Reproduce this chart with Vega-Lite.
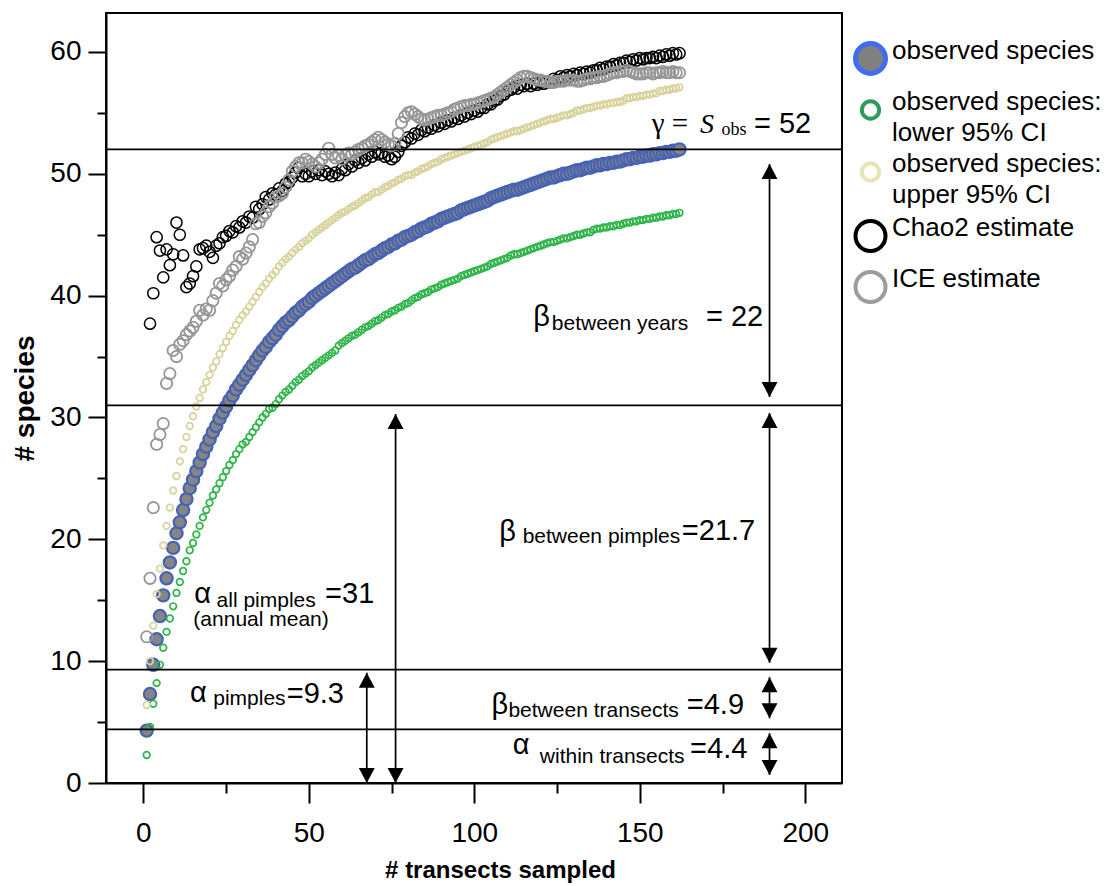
{
  "$schema": "https://vega.github.io/schema/vega-lite/v6.json",
  "width": 736,
  "height": 770,
  "autosize": {"type": "none"},
  "padding": {"left": 106, "top": 13, "right": 270, "bottom": 103},
  "background": "white",
  "config": {
    "font": "Liberation Sans",
    "view": {"stroke": "black", "strokeWidth": 2},
    "style": {"guide-label": {"lineHeight": 31}},
    "axis": {
      "grid": false,
      "domainColor": "black",
      "domainWidth": 2,
      "tickColor": "black",
      "tickWidth": 2,
      "labelFont": "Liberation Sans",
      "labelFontSize": 28,
      "labelColor": "black",
      "labelFlush": false,
      "titleFont": "Liberation Sans",
      "titleFontWeight": "bold",
      "titleColor": "black"
    }
  },
  "datasets": {
    "curves": [
      {"n":1,"s":4.3,"k":"obs"},{"n":2,"s":7.3,"k":"obs"},{"n":3,"s":9.7,"k":"obs"},{"n":4,"s":11.8,"k":"obs"},{"n":5,"s":13.7,"k":"obs"},{"n":6,"s":15.4,"k":"obs"},{"n":7,"s":16.8,"k":"obs"},{"n":8,"s":18.1,"k":"obs"},{"n":9,"s":19.3,"k":"obs"},{"n":10,"s":20.5,"k":"obs"},
      {"n":11,"s":21.4,"k":"obs"},{"n":12,"s":22.4,"k":"obs"},{"n":13,"s":23.3,"k":"obs"},{"n":14,"s":24.2,"k":"obs"},{"n":15,"s":24.9,"k":"obs"},{"n":16,"s":25.6,"k":"obs"},{"n":17,"s":26.3,"k":"obs"},{"n":18,"s":27.0,"k":"obs"},{"n":19,"s":27.6,"k":"obs"},{"n":20,"s":28.2,"k":"obs"},
      {"n":21,"s":28.8,"k":"obs"},{"n":22,"s":29.3,"k":"obs"},{"n":23,"s":29.9,"k":"obs"},{"n":24,"s":30.4,"k":"obs"},{"n":25,"s":30.9,"k":"obs"},{"n":26,"s":31.4,"k":"obs"},{"n":27,"s":31.8,"k":"obs"},{"n":28,"s":32.3,"k":"obs"},{"n":29,"s":32.7,"k":"obs"},{"n":30,"s":33.1,"k":"obs"},
      {"n":31,"s":33.5,"k":"obs"},{"n":32,"s":33.9,"k":"obs"},{"n":33,"s":34.3,"k":"obs"},{"n":34,"s":34.7,"k":"obs"},{"n":35,"s":35.1,"k":"obs"},{"n":36,"s":35.5,"k":"obs"},{"n":37,"s":35.8,"k":"obs"},{"n":38,"s":36.2,"k":"obs"},{"n":39,"s":36.5,"k":"obs"},{"n":40,"s":36.8,"k":"obs"},
      {"n":41,"s":37.2,"k":"obs"},{"n":42,"s":37.5,"k":"obs"},{"n":43,"s":37.8,"k":"obs"},{"n":44,"s":38.0,"k":"obs"},{"n":45,"s":38.3,"k":"obs"},{"n":46,"s":38.6,"k":"obs"},{"n":47,"s":38.8,"k":"obs"},{"n":48,"s":39.1,"k":"obs"},{"n":49,"s":39.3,"k":"obs"},{"n":50,"s":39.5,"k":"obs"},
      {"n":51,"s":39.8,"k":"obs"},{"n":52,"s":40.0,"k":"obs"},{"n":53,"s":40.2,"k":"obs"},{"n":54,"s":40.4,"k":"obs"},{"n":55,"s":40.6,"k":"obs"},{"n":56,"s":40.8,"k":"obs"},{"n":57,"s":41.0,"k":"obs"},{"n":58,"s":41.2,"k":"obs"},{"n":59,"s":41.4,"k":"obs"},{"n":60,"s":41.6,"k":"obs"},
      {"n":61,"s":41.8,"k":"obs"},{"n":62,"s":42.0,"k":"obs"},{"n":63,"s":42.2,"k":"obs"},{"n":64,"s":42.3,"k":"obs"},{"n":65,"s":42.5,"k":"obs"},{"n":66,"s":42.7,"k":"obs"},{"n":67,"s":42.9,"k":"obs"},{"n":68,"s":43.0,"k":"obs"},{"n":69,"s":43.2,"k":"obs"},{"n":70,"s":43.4,"k":"obs"},
      {"n":71,"s":43.5,"k":"obs"},{"n":72,"s":43.7,"k":"obs"},{"n":73,"s":43.9,"k":"obs"},{"n":74,"s":44.0,"k":"obs"},{"n":75,"s":44.2,"k":"obs"},{"n":76,"s":44.3,"k":"obs"},{"n":77,"s":44.5,"k":"obs"},{"n":78,"s":44.6,"k":"obs"},{"n":79,"s":44.8,"k":"obs"},{"n":80,"s":44.9,"k":"obs"},
      {"n":81,"s":45.0,"k":"obs"},{"n":82,"s":45.2,"k":"obs"},{"n":83,"s":45.3,"k":"obs"},{"n":84,"s":45.5,"k":"obs"},{"n":85,"s":45.6,"k":"obs"},{"n":86,"s":45.7,"k":"obs"},{"n":87,"s":45.9,"k":"obs"},{"n":88,"s":46.0,"k":"obs"},{"n":89,"s":46.1,"k":"obs"},{"n":90,"s":46.3,"k":"obs"},
      {"n":91,"s":46.4,"k":"obs"},{"n":92,"s":46.5,"k":"obs"},{"n":93,"s":46.6,"k":"obs"},{"n":94,"s":46.7,"k":"obs"},{"n":95,"s":46.8,"k":"obs"},{"n":96,"s":47.0,"k":"obs"},{"n":97,"s":47.1,"k":"obs"},{"n":98,"s":47.2,"k":"obs"},{"n":99,"s":47.3,"k":"obs"},{"n":100,"s":47.4,"k":"obs"},
      {"n":101,"s":47.5,"k":"obs"},{"n":102,"s":47.6,"k":"obs"},{"n":103,"s":47.7,"k":"obs"},{"n":104,"s":47.8,"k":"obs"},{"n":105,"s":48.0,"k":"obs"},{"n":106,"s":48.1,"k":"obs"},{"n":107,"s":48.2,"k":"obs"},{"n":108,"s":48.3,"k":"obs"},{"n":109,"s":48.4,"k":"obs"},{"n":110,"s":48.5,"k":"obs"},
      {"n":111,"s":48.6,"k":"obs"},{"n":112,"s":48.7,"k":"obs"},{"n":113,"s":48.7,"k":"obs"},{"n":114,"s":48.8,"k":"obs"},{"n":115,"s":48.9,"k":"obs"},{"n":116,"s":49.0,"k":"obs"},{"n":117,"s":49.1,"k":"obs"},{"n":118,"s":49.2,"k":"obs"},{"n":119,"s":49.3,"k":"obs"},{"n":120,"s":49.4,"k":"obs"},
      {"n":121,"s":49.5,"k":"obs"},{"n":122,"s":49.6,"k":"obs"},{"n":123,"s":49.7,"k":"obs"},{"n":124,"s":49.7,"k":"obs"},{"n":125,"s":49.8,"k":"obs"},{"n":126,"s":49.9,"k":"obs"},{"n":127,"s":50.0,"k":"obs"},{"n":128,"s":50.0,"k":"obs"},{"n":129,"s":50.1,"k":"obs"},{"n":130,"s":50.2,"k":"obs"},
      {"n":131,"s":50.3,"k":"obs"},{"n":132,"s":50.3,"k":"obs"},{"n":133,"s":50.4,"k":"obs"},{"n":134,"s":50.5,"k":"obs"},{"n":135,"s":50.5,"k":"obs"},{"n":136,"s":50.6,"k":"obs"},{"n":137,"s":50.7,"k":"obs"},{"n":138,"s":50.7,"k":"obs"},{"n":139,"s":50.8,"k":"obs"},{"n":140,"s":50.8,"k":"obs"},
      {"n":141,"s":50.9,"k":"obs"},{"n":142,"s":50.9,"k":"obs"},{"n":143,"s":51.0,"k":"obs"},{"n":144,"s":51.0,"k":"obs"},{"n":145,"s":51.1,"k":"obs"},{"n":146,"s":51.2,"k":"obs"},{"n":147,"s":51.2,"k":"obs"},{"n":148,"s":51.3,"k":"obs"},{"n":149,"s":51.3,"k":"obs"},{"n":150,"s":51.4,"k":"obs"},
      {"n":151,"s":51.4,"k":"obs"},{"n":152,"s":51.5,"k":"obs"},{"n":153,"s":51.5,"k":"obs"},{"n":154,"s":51.6,"k":"obs"},{"n":155,"s":51.6,"k":"obs"},{"n":156,"s":51.7,"k":"obs"},{"n":157,"s":51.7,"k":"obs"},{"n":158,"s":51.8,"k":"obs"},{"n":159,"s":51.8,"k":"obs"},{"n":160,"s":51.9,"k":"obs"},
      {"n":161,"s":51.9,"k":"obs"},{"n":162,"s":52.0,"k":"obs"},

      {"n":1,"s":2.3,"k":"lo"},{"n":2,"s":4.6,"k":"lo"},{"n":3,"s":6.5,"k":"lo"},{"n":4,"s":8.2,"k":"lo"},{"n":5,"s":9.7,"k":"lo"},{"n":6,"s":11.1,"k":"lo"},{"n":7,"s":12.4,"k":"lo"},{"n":8,"s":13.5,"k":"lo"},{"n":9,"s":14.5,"k":"lo"},{"n":10,"s":15.6,"k":"lo"},
      {"n":11,"s":16.5,"k":"lo"},{"n":12,"s":17.4,"k":"lo"},{"n":13,"s":18.2,"k":"lo"},{"n":14,"s":19.1,"k":"lo"},{"n":15,"s":19.7,"k":"lo"},{"n":16,"s":20.4,"k":"lo"},{"n":17,"s":21.1,"k":"lo"},{"n":18,"s":21.8,"k":"lo"},{"n":19,"s":22.4,"k":"lo"},{"n":20,"s":23.0,"k":"lo"},
      {"n":21,"s":23.6,"k":"lo"},{"n":22,"s":24.1,"k":"lo"},{"n":23,"s":24.6,"k":"lo"},{"n":24,"s":25.1,"k":"lo"},{"n":25,"s":25.6,"k":"lo"},{"n":26,"s":26.1,"k":"lo"},{"n":27,"s":26.5,"k":"lo"},{"n":28,"s":27.0,"k":"lo"},{"n":29,"s":27.4,"k":"lo"},{"n":30,"s":27.8,"k":"lo"},
      {"n":31,"s":28.0,"k":"lo"},{"n":32,"s":28.4,"k":"lo"},{"n":33,"s":28.8,"k":"lo"},{"n":34,"s":29.2,"k":"lo"},{"n":35,"s":29.6,"k":"lo"},{"n":36,"s":30.0,"k":"lo"},{"n":37,"s":30.3,"k":"lo"},{"n":38,"s":30.7,"k":"lo"},{"n":39,"s":30.8,"k":"lo"},{"n":40,"s":31.1,"k":"lo"},
      {"n":41,"s":31.5,"k":"lo"},{"n":42,"s":31.8,"k":"lo"},{"n":43,"s":32.1,"k":"lo"},{"n":44,"s":32.3,"k":"lo"},{"n":45,"s":32.6,"k":"lo"},{"n":46,"s":32.9,"k":"lo"},{"n":47,"s":33.1,"k":"lo"},{"n":48,"s":33.4,"k":"lo"},{"n":49,"s":33.6,"k":"lo"},{"n":50,"s":33.8,"k":"lo"},
      {"n":51,"s":34.1,"k":"lo"},{"n":52,"s":34.3,"k":"lo"},{"n":53,"s":34.5,"k":"lo"},{"n":54,"s":34.7,"k":"lo"},{"n":55,"s":34.9,"k":"lo"},{"n":56,"s":35.1,"k":"lo"},{"n":57,"s":35.3,"k":"lo"},{"n":58,"s":35.5,"k":"lo"},{"n":59,"s":35.9,"k":"lo"},{"n":60,"s":36.1,"k":"lo"},
      {"n":61,"s":36.3,"k":"lo"},{"n":62,"s":36.5,"k":"lo"},{"n":63,"s":36.7,"k":"lo"},{"n":64,"s":36.8,"k":"lo"},{"n":65,"s":37.0,"k":"lo"},{"n":66,"s":37.2,"k":"lo"},{"n":67,"s":37.4,"k":"lo"},{"n":68,"s":37.5,"k":"lo"},{"n":69,"s":37.7,"k":"lo"},{"n":70,"s":37.9,"k":"lo"},
      {"n":71,"s":38.0,"k":"lo"},{"n":72,"s":38.2,"k":"lo"},{"n":73,"s":38.4,"k":"lo"},{"n":74,"s":38.5,"k":"lo"},{"n":75,"s":38.7,"k":"lo"},{"n":76,"s":38.8,"k":"lo"},{"n":77,"s":39.0,"k":"lo"},{"n":78,"s":39.1,"k":"lo"},{"n":79,"s":39.3,"k":"lo"},{"n":80,"s":39.4,"k":"lo"},
      {"n":81,"s":39.6,"k":"lo"},{"n":82,"s":39.8,"k":"lo"},{"n":83,"s":39.9,"k":"lo"},{"n":84,"s":40.1,"k":"lo"},{"n":85,"s":40.2,"k":"lo"},{"n":86,"s":40.3,"k":"lo"},{"n":87,"s":40.5,"k":"lo"},{"n":88,"s":40.6,"k":"lo"},{"n":89,"s":40.7,"k":"lo"},{"n":90,"s":40.9,"k":"lo"},
      {"n":91,"s":41.0,"k":"lo"},{"n":92,"s":41.1,"k":"lo"},{"n":93,"s":41.2,"k":"lo"},{"n":94,"s":41.3,"k":"lo"},{"n":95,"s":41.4,"k":"lo"},{"n":96,"s":41.6,"k":"lo"},{"n":97,"s":41.7,"k":"lo"},{"n":98,"s":41.8,"k":"lo"},{"n":99,"s":41.9,"k":"lo"},{"n":100,"s":42.0,"k":"lo"},
      {"n":101,"s":42.1,"k":"lo"},{"n":102,"s":42.2,"k":"lo"},{"n":103,"s":42.3,"k":"lo"},{"n":104,"s":42.4,"k":"lo"},{"n":105,"s":42.6,"k":"lo"},{"n":106,"s":42.7,"k":"lo"},{"n":107,"s":42.8,"k":"lo"},{"n":108,"s":42.9,"k":"lo"},{"n":109,"s":43.0,"k":"lo"},{"n":110,"s":43.1,"k":"lo"},
      {"n":111,"s":43.3,"k":"lo"},{"n":112,"s":43.4,"k":"lo"},{"n":113,"s":43.4,"k":"lo"},{"n":114,"s":43.5,"k":"lo"},{"n":115,"s":43.6,"k":"lo"},{"n":116,"s":43.7,"k":"lo"},{"n":117,"s":43.8,"k":"lo"},{"n":118,"s":43.9,"k":"lo"},{"n":119,"s":44.0,"k":"lo"},{"n":120,"s":44.1,"k":"lo"},
      {"n":121,"s":44.2,"k":"lo"},{"n":122,"s":44.3,"k":"lo"},{"n":123,"s":44.4,"k":"lo"},{"n":124,"s":44.4,"k":"lo"},{"n":125,"s":44.5,"k":"lo"},{"n":126,"s":44.6,"k":"lo"},{"n":127,"s":44.7,"k":"lo"},{"n":128,"s":44.7,"k":"lo"},{"n":129,"s":44.8,"k":"lo"},{"n":130,"s":44.9,"k":"lo"},
      {"n":131,"s":45.0,"k":"lo"},{"n":132,"s":45.0,"k":"lo"},{"n":133,"s":45.1,"k":"lo"},{"n":134,"s":45.2,"k":"lo"},{"n":135,"s":45.2,"k":"lo"},{"n":136,"s":45.4,"k":"lo"},{"n":137,"s":45.5,"k":"lo"},{"n":138,"s":45.5,"k":"lo"},{"n":139,"s":45.6,"k":"lo"},{"n":140,"s":45.6,"k":"lo"},
      {"n":141,"s":45.7,"k":"lo"},{"n":142,"s":45.7,"k":"lo"},{"n":143,"s":45.8,"k":"lo"},{"n":144,"s":45.8,"k":"lo"},{"n":145,"s":45.9,"k":"lo"},{"n":146,"s":46.0,"k":"lo"},{"n":147,"s":46.0,"k":"lo"},{"n":148,"s":46.1,"k":"lo"},{"n":149,"s":46.1,"k":"lo"},{"n":150,"s":46.2,"k":"lo"},
      {"n":151,"s":46.2,"k":"lo"},{"n":152,"s":46.3,"k":"lo"},{"n":153,"s":46.3,"k":"lo"},{"n":154,"s":46.4,"k":"lo"},{"n":155,"s":46.4,"k":"lo"},{"n":156,"s":46.5,"k":"lo"},{"n":157,"s":46.5,"k":"lo"},{"n":158,"s":46.6,"k":"lo"},{"n":159,"s":46.6,"k":"lo"},{"n":160,"s":46.7,"k":"lo"},
      {"n":161,"s":46.7,"k":"lo"},{"n":162,"s":46.8,"k":"lo"},

      {"n":1,"s":6.4,"k":"hi"},{"n":2,"s":10.0,"k":"hi"},{"n":3,"s":12.9,"k":"hi"},{"n":4,"s":15.5,"k":"hi"},{"n":5,"s":17.6,"k":"hi"},{"n":6,"s":19.5,"k":"hi"},{"n":7,"s":21.1,"k":"hi"},{"n":8,"s":22.6,"k":"hi"},{"n":9,"s":24.0,"k":"hi"},{"n":10,"s":25.2,"k":"hi"},
      {"n":11,"s":26.4,"k":"hi"},{"n":12,"s":27.4,"k":"hi"},{"n":13,"s":28.4,"k":"hi"},{"n":14,"s":29.3,"k":"hi"},{"n":15,"s":30.1,"k":"hi"},{"n":16,"s":30.9,"k":"hi"},{"n":17,"s":31.6,"k":"hi"},{"n":18,"s":32.3,"k":"hi"},{"n":19,"s":32.9,"k":"hi"},{"n":20,"s":33.5,"k":"hi"},
      {"n":21,"s":34.1,"k":"hi"},{"n":22,"s":34.6,"k":"hi"},{"n":23,"s":35.2,"k":"hi"},{"n":24,"s":35.7,"k":"hi"},{"n":25,"s":36.2,"k":"hi"},{"n":26,"s":36.7,"k":"hi"},{"n":27,"s":37.1,"k":"hi"},{"n":28,"s":37.6,"k":"hi"},{"n":29,"s":38.0,"k":"hi"},{"n":30,"s":38.4,"k":"hi"},
      {"n":31,"s":38.7,"k":"hi"},{"n":32,"s":39.1,"k":"hi"},{"n":33,"s":39.5,"k":"hi"},{"n":34,"s":39.9,"k":"hi"},{"n":35,"s":40.3,"k":"hi"},{"n":36,"s":40.7,"k":"hi"},{"n":37,"s":41.0,"k":"hi"},{"n":38,"s":41.4,"k":"hi"},{"n":39,"s":41.7,"k":"hi"},{"n":40,"s":42.0,"k":"hi"},
      {"n":41,"s":42.4,"k":"hi"},{"n":42,"s":42.7,"k":"hi"},{"n":43,"s":43.0,"k":"hi"},{"n":44,"s":43.2,"k":"hi"},{"n":45,"s":43.5,"k":"hi"},{"n":46,"s":43.8,"k":"hi"},{"n":47,"s":44.0,"k":"hi"},{"n":48,"s":44.3,"k":"hi"},{"n":49,"s":44.5,"k":"hi"},{"n":50,"s":44.7,"k":"hi"},
      {"n":51,"s":45.0,"k":"hi"},{"n":52,"s":45.2,"k":"hi"},{"n":53,"s":45.4,"k":"hi"},{"n":54,"s":45.6,"k":"hi"},{"n":55,"s":45.8,"k":"hi"},{"n":56,"s":46.0,"k":"hi"},{"n":57,"s":46.2,"k":"hi"},{"n":58,"s":46.4,"k":"hi"},{"n":59,"s":46.6,"k":"hi"},{"n":60,"s":46.8,"k":"hi"},
      {"n":61,"s":46.9,"k":"hi"},{"n":62,"s":47.1,"k":"hi"},{"n":63,"s":47.3,"k":"hi"},{"n":64,"s":47.4,"k":"hi"},{"n":65,"s":47.6,"k":"hi"},{"n":66,"s":47.8,"k":"hi"},{"n":67,"s":48.0,"k":"hi"},{"n":68,"s":48.1,"k":"hi"},{"n":69,"s":48.3,"k":"hi"},{"n":70,"s":48.5,"k":"hi"},
      {"n":71,"s":48.5,"k":"hi"},{"n":72,"s":48.7,"k":"hi"},{"n":73,"s":48.9,"k":"hi"},{"n":74,"s":49.0,"k":"hi"},{"n":75,"s":49.2,"k":"hi"},{"n":76,"s":49.3,"k":"hi"},{"n":77,"s":49.5,"k":"hi"},{"n":78,"s":49.6,"k":"hi"},{"n":79,"s":49.8,"k":"hi"},{"n":80,"s":49.9,"k":"hi"},
      {"n":81,"s":49.9,"k":"hi"},{"n":82,"s":50.1,"k":"hi"},{"n":83,"s":50.2,"k":"hi"},{"n":84,"s":50.4,"k":"hi"},{"n":85,"s":50.5,"k":"hi"},{"n":86,"s":50.6,"k":"hi"},{"n":87,"s":50.8,"k":"hi"},{"n":88,"s":50.9,"k":"hi"},{"n":89,"s":51.0,"k":"hi"},{"n":90,"s":51.2,"k":"hi"},
      {"n":91,"s":51.3,"k":"hi"},{"n":92,"s":51.4,"k":"hi"},{"n":93,"s":51.5,"k":"hi"},{"n":94,"s":51.6,"k":"hi"},{"n":95,"s":51.7,"k":"hi"},{"n":96,"s":51.8,"k":"hi"},{"n":97,"s":51.9,"k":"hi"},{"n":98,"s":52.0,"k":"hi"},{"n":99,"s":52.1,"k":"hi"},{"n":100,"s":52.2,"k":"hi"},
      {"n":101,"s":52.3,"k":"hi"},{"n":102,"s":52.4,"k":"hi"},{"n":103,"s":52.5,"k":"hi"},{"n":104,"s":52.6,"k":"hi"},{"n":105,"s":52.8,"k":"hi"},{"n":106,"s":52.9,"k":"hi"},{"n":107,"s":53.0,"k":"hi"},{"n":108,"s":53.1,"k":"hi"},{"n":109,"s":53.2,"k":"hi"},{"n":110,"s":53.3,"k":"hi"},
      {"n":111,"s":53.4,"k":"hi"},{"n":112,"s":53.5,"k":"hi"},{"n":113,"s":53.5,"k":"hi"},{"n":114,"s":53.6,"k":"hi"},{"n":115,"s":53.7,"k":"hi"},{"n":116,"s":53.8,"k":"hi"},{"n":117,"s":53.9,"k":"hi"},{"n":118,"s":54.0,"k":"hi"},{"n":119,"s":54.1,"k":"hi"},{"n":120,"s":54.2,"k":"hi"},
      {"n":121,"s":54.3,"k":"hi"},{"n":122,"s":54.4,"k":"hi"},{"n":123,"s":54.5,"k":"hi"},{"n":124,"s":54.5,"k":"hi"},{"n":125,"s":54.6,"k":"hi"},{"n":126,"s":54.7,"k":"hi"},{"n":127,"s":54.8,"k":"hi"},{"n":128,"s":54.8,"k":"hi"},{"n":129,"s":54.9,"k":"hi"},{"n":130,"s":55.0,"k":"hi"},
      {"n":131,"s":55.2,"k":"hi"},{"n":132,"s":55.2,"k":"hi"},{"n":133,"s":55.3,"k":"hi"},{"n":134,"s":55.4,"k":"hi"},{"n":135,"s":55.4,"k":"hi"},{"n":136,"s":55.5,"k":"hi"},{"n":137,"s":55.6,"k":"hi"},{"n":138,"s":55.6,"k":"hi"},{"n":139,"s":55.7,"k":"hi"},{"n":140,"s":55.7,"k":"hi"},
      {"n":141,"s":55.8,"k":"hi"},{"n":142,"s":55.8,"k":"hi"},{"n":143,"s":55.9,"k":"hi"},{"n":144,"s":55.9,"k":"hi"},{"n":145,"s":56.0,"k":"hi"},{"n":146,"s":56.2,"k":"hi"},{"n":147,"s":56.2,"k":"hi"},{"n":148,"s":56.3,"k":"hi"},{"n":149,"s":56.3,"k":"hi"},{"n":150,"s":56.4,"k":"hi"},
      {"n":151,"s":56.4,"k":"hi"},{"n":152,"s":56.5,"k":"hi"},{"n":153,"s":56.5,"k":"hi"},{"n":154,"s":56.6,"k":"hi"},{"n":155,"s":56.6,"k":"hi"},{"n":156,"s":56.8,"k":"hi"},{"n":157,"s":56.8,"k":"hi"},{"n":158,"s":56.9,"k":"hi"},{"n":159,"s":56.9,"k":"hi"},{"n":160,"s":57.0,"k":"hi"},
      {"n":161,"s":57.0,"k":"hi"},{"n":162,"s":57.1,"k":"hi"},

      {"n":2,"s":37.7,"k":"chao"},{"n":3,"s":40.2,"k":"chao"},{"n":4,"s":44.8,"k":"chao"},{"n":5,"s":43.7,"k":"chao"},{"n":6,"s":41.5,"k":"chao"},{"n":7,"s":43.8,"k":"chao"},{"n":8,"s":42.5,"k":"chao"},{"n":9,"s":43.4,"k":"chao"},{"n":10,"s":46.0,"k":"chao"},
      {"n":11,"s":45.0,"k":"chao"},{"n":12,"s":43.3,"k":"chao"},{"n":13,"s":40.7,"k":"chao"},{"n":14,"s":41.0,"k":"chao"},{"n":15,"s":41.6,"k":"chao"},{"n":16,"s":42.4,"k":"chao"},{"n":17,"s":43.8,"k":"chao"},{"n":18,"s":43.9,"k":"chao"},{"n":19,"s":44.1,"k":"chao"},{"n":20,"s":43.6,"k":"chao"},
      {"n":21,"s":43.1,"k":"chao"},{"n":22,"s":44.1,"k":"chao"},{"n":23,"s":44.3,"k":"chao"},{"n":24,"s":44.8,"k":"chao"},{"n":25,"s":44.9,"k":"chao"},{"n":26,"s":45.3,"k":"chao"},{"n":27,"s":45.2,"k":"chao"},{"n":28,"s":45.7,"k":"chao"},{"n":29,"s":45.6,"k":"chao"},{"n":30,"s":46.1,"k":"chao"},
      {"n":31,"s":46.0,"k":"chao"},{"n":32,"s":46.5,"k":"chao"},{"n":33,"s":46.4,"k":"chao"},{"n":34,"s":47.3,"k":"chao"},{"n":35,"s":47.1,"k":"chao"},{"n":36,"s":47.5,"k":"chao"},{"n":37,"s":48.1,"k":"chao"},{"n":38,"s":47.9,"k":"chao"},{"n":39,"s":48.4,"k":"chao"},{"n":40,"s":48.3,"k":"chao"},
      {"n":41,"s":48.8,"k":"chao"},{"n":42,"s":48.6,"k":"chao"},{"n":43,"s":49.2,"k":"chao"},{"n":44,"s":49.3,"k":"chao"},{"n":45,"s":49.7,"k":"chao"},{"n":46,"s":50.1,"k":"chao"},{"n":47,"s":50.5,"k":"chao"},{"n":48,"s":49.8,"k":"chao"},{"n":49,"s":50.0,"k":"chao"},{"n":50,"s":49.8,"k":"chao"},
      {"n":51,"s":50.2,"k":"chao"},{"n":52,"s":50.0,"k":"chao"},{"n":53,"s":50.3,"k":"chao"},{"n":54,"s":49.9,"k":"chao"},{"n":55,"s":50.2,"k":"chao"},{"n":56,"s":50.0,"k":"chao"},{"n":57,"s":49.8,"k":"chao"},{"n":58,"s":50.1,"k":"chao"},{"n":59,"s":49.9,"k":"chao"},{"n":60,"s":50.4,"k":"chao"},
      {"n":61,"s":50.3,"k":"chao"},{"n":62,"s":50.8,"k":"chao"},{"n":63,"s":50.6,"k":"chao"},{"n":64,"s":51.1,"k":"chao"},{"n":65,"s":50.9,"k":"chao"},{"n":66,"s":51.3,"k":"chao"},{"n":67,"s":51.1,"k":"chao"},{"n":68,"s":51.6,"k":"chao"},{"n":69,"s":51.4,"k":"chao"},{"n":70,"s":51.8,"k":"chao"},
      {"n":71,"s":51.6,"k":"chao"},{"n":72,"s":51.7,"k":"chao"},{"n":73,"s":51.4,"k":"chao"},{"n":74,"s":51.5,"k":"chao"},{"n":75,"s":51.2,"k":"chao"},{"n":76,"s":51.4,"k":"chao"},{"n":77,"s":51.8,"k":"chao"},{"n":78,"s":52.3,"k":"chao"},{"n":79,"s":52.6,"k":"chao"},{"n":80,"s":53.0,"k":"chao"},
      {"n":81,"s":52.9,"k":"chao"},{"n":82,"s":53.3,"k":"chao"},{"n":83,"s":53.2,"k":"chao"},{"n":84,"s":53.6,"k":"chao"},{"n":85,"s":53.5,"k":"chao"},{"n":86,"s":53.8,"k":"chao"},{"n":87,"s":53.7,"k":"chao"},{"n":88,"s":54.0,"k":"chao"},{"n":89,"s":53.9,"k":"chao"},{"n":90,"s":54.2,"k":"chao"},
      {"n":91,"s":54.1,"k":"chao"},{"n":92,"s":54.4,"k":"chao"},{"n":93,"s":54.3,"k":"chao"},{"n":94,"s":54.6,"k":"chao"},{"n":95,"s":54.5,"k":"chao"},{"n":96,"s":54.8,"k":"chao"},{"n":97,"s":54.7,"k":"chao"},{"n":98,"s":55.0,"k":"chao"},{"n":99,"s":54.9,"k":"chao"},{"n":100,"s":55.2,"k":"chao"},
      {"n":101,"s":55.1,"k":"chao"},{"n":102,"s":55.4,"k":"chao"},{"n":103,"s":55.4,"k":"chao"},{"n":104,"s":55.7,"k":"chao"},{"n":105,"s":55.7,"k":"chao"},{"n":106,"s":56.0,"k":"chao"},{"n":107,"s":56.1,"k":"chao"},{"n":108,"s":56.4,"k":"chao"},{"n":109,"s":56.5,"k":"chao"},{"n":110,"s":56.8,"k":"chao"},
      {"n":111,"s":56.9,"k":"chao"},{"n":112,"s":57.1,"k":"chao"},{"n":113,"s":57.0,"k":"chao"},{"n":114,"s":57.3,"k":"chao"},{"n":115,"s":57.2,"k":"chao"},{"n":116,"s":57.4,"k":"chao"},{"n":117,"s":57.2,"k":"chao"},{"n":118,"s":57.4,"k":"chao"},{"n":119,"s":57.3,"k":"chao"},{"n":120,"s":57.5,"k":"chao"},
      {"n":121,"s":57.4,"k":"chao"},{"n":122,"s":57.6,"k":"chao"},{"n":123,"s":57.5,"k":"chao"},{"n":124,"s":57.8,"k":"chao"},{"n":125,"s":57.7,"k":"chao"},{"n":126,"s":58.0,"k":"chao"},{"n":127,"s":57.9,"k":"chao"},{"n":128,"s":58.1,"k":"chao"},{"n":129,"s":58.0,"k":"chao"},{"n":130,"s":58.2,"k":"chao"},
      {"n":131,"s":58.1,"k":"chao"},{"n":132,"s":58.3,"k":"chao"},{"n":133,"s":58.2,"k":"chao"},{"n":134,"s":58.4,"k":"chao"},{"n":135,"s":58.3,"k":"chao"},{"n":136,"s":58.5,"k":"chao"},{"n":137,"s":58.5,"k":"chao"},{"n":138,"s":58.7,"k":"chao"},{"n":139,"s":58.6,"k":"chao"},{"n":140,"s":58.8,"k":"chao"},
      {"n":141,"s":58.8,"k":"chao"},{"n":142,"s":59.0,"k":"chao"},{"n":143,"s":58.9,"k":"chao"},{"n":144,"s":59.1,"k":"chao"},{"n":145,"s":59.1,"k":"chao"},{"n":146,"s":59.3,"k":"chao"},{"n":147,"s":59.2,"k":"chao"},{"n":148,"s":59.4,"k":"chao"},{"n":149,"s":59.3,"k":"chao"},{"n":150,"s":59.5,"k":"chao"},
      {"n":151,"s":59.4,"k":"chao"},{"n":152,"s":59.5,"k":"chao"},{"n":153,"s":59.5,"k":"chao"},{"n":154,"s":59.6,"k":"chao"},{"n":155,"s":59.5,"k":"chao"},{"n":156,"s":59.7,"k":"chao"},{"n":157,"s":59.6,"k":"chao"},{"n":158,"s":59.8,"k":"chao"},{"n":159,"s":59.7,"k":"chao"},{"n":160,"s":59.9,"k":"chao"},
      {"n":161,"s":59.8,"k":"chao"},{"n":162,"s":59.9,"k":"chao"},

      {"n":1,"s":12.0,"k":"ice"},{"n":2,"s":16.8,"k":"ice"},{"n":3,"s":22.6,"k":"ice"},{"n":4,"s":27.8,"k":"ice"},{"n":5,"s":28.6,"k":"ice"},{"n":6,"s":29.5,"k":"ice"},{"n":7,"s":32.8,"k":"ice"},{"n":8,"s":33.6,"k":"ice"},{"n":9,"s":35.5,"k":"ice"},{"n":10,"s":35.0,"k":"ice"},
      {"n":11,"s":36.0,"k":"ice"},{"n":12,"s":36.3,"k":"ice"},{"n":13,"s":36.8,"k":"ice"},{"n":14,"s":37.1,"k":"ice"},{"n":15,"s":37.4,"k":"ice"},{"n":16,"s":37.9,"k":"ice"},{"n":17,"s":38.8,"k":"ice"},{"n":18,"s":38.4,"k":"ice"},{"n":19,"s":38.9,"k":"ice"},{"n":20,"s":38.8,"k":"ice"},
      {"n":21,"s":39.6,"k":"ice"},{"n":22,"s":40.2,"k":"ice"},{"n":23,"s":41.0,"k":"ice"},{"n":24,"s":40.8,"k":"ice"},{"n":25,"s":41.3,"k":"ice"},{"n":26,"s":41.6,"k":"ice"},{"n":27,"s":42.1,"k":"ice"},{"n":28,"s":42.4,"k":"ice"},{"n":29,"s":43.2,"k":"ice"},{"n":30,"s":43.0,"k":"ice"},
      {"n":31,"s":43.5,"k":"ice"},{"n":32,"s":44.0,"k":"ice"},{"n":33,"s":44.6,"k":"ice"},{"n":34,"s":45.9,"k":"ice"},{"n":35,"s":46.0,"k":"ice"},{"n":36,"s":46.5,"k":"ice"},{"n":37,"s":46.8,"k":"ice"},{"n":38,"s":47.3,"k":"ice"},{"n":39,"s":47.6,"k":"ice"},{"n":40,"s":48.1,"k":"ice"},
      {"n":41,"s":48.2,"k":"ice"},{"n":42,"s":48.4,"k":"ice"},{"n":43,"s":48.9,"k":"ice"},{"n":44,"s":49.5,"k":"ice"},{"n":45,"s":50.2,"k":"ice"},{"n":46,"s":50.6,"k":"ice"},{"n":47,"s":50.9,"k":"ice"},{"n":48,"s":50.9,"k":"ice"},{"n":49,"s":51.2,"k":"ice"},{"n":50,"s":51.0,"k":"ice"},
      {"n":51,"s":50.8,"k":"ice"},{"n":52,"s":50.6,"k":"ice"},{"n":53,"s":50.9,"k":"ice"},{"n":54,"s":51.2,"k":"ice"},{"n":55,"s":51.6,"k":"ice"},{"n":56,"s":52.1,"k":"ice"},{"n":57,"s":51.6,"k":"ice"},{"n":58,"s":51.3,"k":"ice"},{"n":59,"s":51.5,"k":"ice"},{"n":60,"s":51.2,"k":"ice"},
      {"n":61,"s":51.5,"k":"ice"},{"n":62,"s":51.7,"k":"ice"},{"n":63,"s":51.6,"k":"ice"},{"n":64,"s":51.8,"k":"ice"},{"n":65,"s":52.0,"k":"ice"},{"n":66,"s":52.1,"k":"ice"},{"n":67,"s":52.3,"k":"ice"},{"n":68,"s":52.4,"k":"ice"},{"n":69,"s":52.6,"k":"ice"},{"n":70,"s":52.8,"k":"ice"},
      {"n":71,"s":53.0,"k":"ice"},{"n":72,"s":52.8,"k":"ice"},{"n":73,"s":52.6,"k":"ice"},{"n":74,"s":52.4,"k":"ice"},{"n":75,"s":52.3,"k":"ice"},{"n":76,"s":52.5,"k":"ice"},{"n":77,"s":53.3,"k":"ice"},{"n":78,"s":54.2,"k":"ice"},{"n":79,"s":54.7,"k":"ice"},{"n":80,"s":55.0,"k":"ice"},
      {"n":81,"s":55.1,"k":"ice"},{"n":82,"s":54.9,"k":"ice"},{"n":83,"s":54.7,"k":"ice"},{"n":84,"s":54.5,"k":"ice"},{"n":85,"s":54.4,"k":"ice"},{"n":86,"s":54.5,"k":"ice"},{"n":87,"s":54.6,"k":"ice"},{"n":88,"s":54.7,"k":"ice"},{"n":89,"s":54.8,"k":"ice"},{"n":90,"s":54.8,"k":"ice"},
      {"n":91,"s":54.9,"k":"ice"},{"n":92,"s":55.0,"k":"ice"},{"n":93,"s":55.1,"k":"ice"},{"n":94,"s":55.3,"k":"ice"},{"n":95,"s":55.4,"k":"ice"},{"n":96,"s":55.5,"k":"ice"},{"n":97,"s":55.6,"k":"ice"},{"n":98,"s":55.6,"k":"ice"},{"n":99,"s":55.7,"k":"ice"},{"n":100,"s":55.7,"k":"ice"},
      {"n":101,"s":55.8,"k":"ice"},{"n":102,"s":55.9,"k":"ice"},{"n":103,"s":56.0,"k":"ice"},{"n":104,"s":56.1,"k":"ice"},{"n":105,"s":56.2,"k":"ice"},{"n":106,"s":56.3,"k":"ice"},{"n":107,"s":56.5,"k":"ice"},{"n":108,"s":56.7,"k":"ice"},{"n":109,"s":56.9,"k":"ice"},{"n":110,"s":57.1,"k":"ice"},
      {"n":111,"s":57.3,"k":"ice"},{"n":112,"s":57.5,"k":"ice"},{"n":113,"s":57.7,"k":"ice"},{"n":114,"s":57.9,"k":"ice"},{"n":115,"s":58.0,"k":"ice"},{"n":116,"s":58.0,"k":"ice"},{"n":117,"s":57.9,"k":"ice"},{"n":118,"s":57.8,"k":"ice"},{"n":119,"s":57.7,"k":"ice"},{"n":120,"s":57.7,"k":"ice"},
      {"n":121,"s":57.6,"k":"ice"},{"n":122,"s":57.6,"k":"ice"},{"n":123,"s":57.5,"k":"ice"},{"n":124,"s":57.5,"k":"ice"},{"n":125,"s":57.6,"k":"ice"},{"n":126,"s":57.6,"k":"ice"},{"n":127,"s":57.6,"k":"ice"},{"n":128,"s":57.7,"k":"ice"},{"n":129,"s":57.7,"k":"ice"},{"n":130,"s":57.7,"k":"ice"},
      {"n":131,"s":57.6,"k":"ice"},{"n":132,"s":57.6,"k":"ice"},{"n":133,"s":57.7,"k":"ice"},{"n":134,"s":57.8,"k":"ice"},{"n":135,"s":57.8,"k":"ice"},{"n":136,"s":57.9,"k":"ice"},{"n":137,"s":57.9,"k":"ice"},{"n":138,"s":58.0,"k":"ice"},{"n":139,"s":58.0,"k":"ice"},{"n":140,"s":58.1,"k":"ice"},
      {"n":141,"s":58.2,"k":"ice"},{"n":142,"s":58.3,"k":"ice"},{"n":143,"s":58.3,"k":"ice"},{"n":144,"s":58.4,"k":"ice"},{"n":145,"s":58.4,"k":"ice"},{"n":146,"s":58.5,"k":"ice"},{"n":147,"s":58.4,"k":"ice"},{"n":148,"s":58.3,"k":"ice"},{"n":149,"s":58.2,"k":"ice"},{"n":150,"s":58.2,"k":"ice"},
      {"n":151,"s":58.2,"k":"ice"},{"n":152,"s":58.3,"k":"ice"},{"n":153,"s":58.3,"k":"ice"},{"n":154,"s":58.2,"k":"ice"},{"n":155,"s":58.3,"k":"ice"},{"n":156,"s":58.3,"k":"ice"},{"n":157,"s":58.4,"k":"ice"},{"n":158,"s":58.3,"k":"ice"},{"n":159,"s":58.3,"k":"ice"},{"n":160,"s":58.4,"k":"ice"},
      {"n":161,"s":58.3,"k":"ice"},{"n":162,"s":58.3,"k":"ice"}
    ],
    "levels": [{"s": 52}, {"s": 31}, {"s": 9.3}, {"s": 4.4}],
    "arrows": [
      {"x": 189.2, "lo": 31.68, "hi": 50.8},
      {"x": 189.2, "lo": 9.87, "hi": 30.37},
      {"x": 189.2, "lo": 5.31, "hi": 8.68},
      {"x": 189.2, "lo": 0.66, "hi": 4.08},
      {"x": 67.5, "lo": 0, "hi": 9.05},
      {"x": 76.2, "lo": 0, "hi": 30.29}
    ],
    "bigText": [
      {"x": 184.5, "y": 53.37, "t": "= 52"},
      {"x": 117.8, "y": 37.53, "t": "β"},
      {"x": 170.0, "y": 37.55, "t": "= 22"},
      {"x": 107.5, "y": 19.9, "t": "β"},
      {"x": 162.7, "y": 19.94, "t": "=21.7"},
      {"x": 15.4, "y": 14.8, "t": "α"},
      {"x": 54.9, "y": 14.75, "t": "=31"},
      {"x": 14.1, "y": 6.65, "t": "α"},
      {"x": 43.3, "y": 6.54, "t": "=9.3"},
      {"x": 105.2, "y": 5.66, "t": "β"},
      {"x": 164.2, "y": 5.66, "t": "=4.9"},
      {"x": 111.6, "y": 2.38, "t": "α"},
      {"x": 165.2, "y": 2.03, "t": "=4.4"}
    ],
    "smallText": [
      {"x": 123.4, "y": 37.18, "t": "between years"},
      {"x": 114.6, "y": 19.67, "t": "between pimples"},
      {"x": 22.1, "y": 14.47, "t": "all pimples"},
      {"x": 15.1, "y": 12.89, "t": "(annual mean)"},
      {"x": 21.1, "y": 6.44, "t": "pimples"},
      {"x": 110.3, "y": 5.44, "t": "between transects"},
      {"x": 119.8, "y": 1.62, "t": "within transects"}
    ],
    "gammaText": [{"x": 153.6, "y": 53.37, "t": "γ ="}],
    "sText": [{"x": 168.2, "y": 53.37, "t": "S"}],
    "obsText": [{"x": 174.7, "y": 53.2, "t": "obs"}]
  },
  "resolve": {
    "axis": {"x": "independent", "y": "independent"},
    "scale": {"stroke": "independent", "fill": "independent", "size": "independent", "strokeWidth": "independent"}
  },
  "layer": [
    {
      "data": {"name": "curves"},
      "mark": {"type": "point", "shape": "circle", "filled": true, "opacity": 1},
      "encoding": {
        "x": {
          "field": "n", "type": "quantitative",
          "scale": {"domain": [-11.3, 211.1], "nice": false, "zero": false},
          "axis": {"values": [0, 50, 100, 150, 200], "tickSize": 20, "labelPadding": 16, "title": "# transects sampled", "titleFontSize": 24, "titlePadding": 11, "titleX": 394}
        },
        "y": {
          "field": "s", "type": "quantitative",
          "scale": {"domain": [0, 63.2], "nice": false, "zero": false},
          "axis": {"values": [0, 10, 20, 30, 40, 50, 60], "tickSize": 18, "labelPadding": 7, "title": "# species", "titleFontSize": 28, "titlePadding": 10}
        },
        "fill": {
          "field": "k", "type": "nominal",
          "scale": {"domain": ["obs", "lo", "hi", "chao", "ice"], "range": ["#858585", "transparent", "transparent", "transparent", "transparent"]},
          "legend": null
        },
        "size": {
          "field": "k", "type": "nominal",
          "scale": {"type": "ordinal", "domain": ["obs", "lo", "hi", "chao", "ice"], "range": [150, 44, 44, 125, 128]},
          "legend": null
        },
        "strokeWidth": {
          "field": "k", "type": "nominal",
          "scale": {"type": "ordinal", "domain": ["obs", "lo", "hi", "chao", "ice"], "range": [2.2, 1.7, 1.7, 1.5, 1.8]},
          "legend": null
        },
        "stroke": {
          "field": "k", "type": "nominal",
          "scale": {"domain": ["obs", "lo", "hi", "chao", "ice"], "range": ["#4562b5", "#2fb54a", "#d8d29c", "#000000", "#969696"]},
          "legend": null
        }
      }
    },
    {
      "data": {"values": []},
      "mark": {"type": "point", "shape": "circle", "filled": true, "opacity": 1},
      "encoding": {
        "stroke": {
          "field": "k", "type": "nominal",
          "scale": {"domain": ["obs", "lo", "hi", "chao", "ice"], "range": ["#3f6cf0", "#2f9a5c", "#e6e5b8", "#000000", "#9c9c9c"]},
          "legend": {
            "title": null,
            "orient": "none",
            "legendX": 747,
            "legendY": 28,
            "padding": 0,
            "symbolType": "circle",
            "symbolFillColor": "transparent",
            "symbolOpacity": 1,
            "labelFont": "Liberation Sans",
            "labelFontSize": 26,
            "labelColor": "black",
            "labelLimit": 400,
            "labelOffset": 4,
            "labelBaseline": "alphabetic",
            "rowPadding": 5,
            "labelExpr": "datum.label === 'obs' ? 'observed species' : datum.label === 'lo' ? ['observed species:', 'lower 95% CI'] : datum.label === 'hi' ? ['observed species:', 'upper 95% CI'] : datum.label === 'chao' ? 'Chao2 estimate' : 'ICE estimate'"
          }
        },
        "fill": {
          "field": "k", "type": "nominal",
          "scale": {"domain": ["obs", "lo", "hi", "chao", "ice"], "range": ["#808080", "transparent", "transparent", "transparent", "transparent"]},
          "legend": {"title": null}
        },
        "size": {
          "field": "k", "type": "nominal",
          "scale": {"type": "ordinal", "domain": ["obs", "lo", "hi", "chao", "ice"], "range": [900, 300, 300, 900, 900]},
          "legend": {"title": null}
        },
        "strokeWidth": {
          "field": "k", "type": "nominal",
          "scale": {"type": "ordinal", "domain": ["obs", "lo", "hi", "chao", "ice"], "range": [5, 4, 4, 4, 4]},
          "legend": {"title": null}
        }
      }
    },
    {
      "data": {"name": "levels"},
      "mark": {"type": "rule", "color": "black", "strokeWidth": 1.7},
      "encoding": {
        "y": {
          "field": "s", "type": "quantitative",
          "scale": {"domain": [0, 63.2], "nice": false, "zero": false},
          "axis": {"orient": "left", "values": [5, 15, 25, 35, 45, 55], "tickSize": 9, "labels": false, "domain": false, "title": null}
        }
      }
    },
    {
      "data": {"name": "arrows"},
      "mark": {"type": "rule", "color": "black", "strokeWidth": 1.7},
      "encoding": {
        "x": {
          "field": "x", "type": "quantitative",
          "scale": {"domain": [-11.3, 211.1], "nice": false, "zero": false},
          "axis": {"orient": "bottom", "values": [25, 75, 125, 175], "tickSize": 10, "labels": false, "domain": false, "title": null}
        },
        "y": {"field": "lo", "type": "quantitative", "scale": {"domain": [0, 63.2], "nice": false, "zero": false}, "axis": null},
        "y2": {"field": "hi"}
      }
    },
    {
      "data": {"name": "arrows"},
      "mark": {"type": "point", "shape": "M0,0L0.53,1L-0.53,1Z", "filled": true, "color": "black", "opacity": 1, "size": 900, "strokeWidth": 0},
      "encoding": {
        "x": {"field": "x", "type": "quantitative", "scale": {"domain": [-11.3, 211.1], "nice": false, "zero": false}, "axis": null},
        "y": {"field": "hi", "type": "quantitative", "scale": {"domain": [0, 63.2], "nice": false, "zero": false}, "axis": null}
      }
    },
    {
      "data": {"name": "arrows"},
      "mark": {"type": "point", "shape": "M0,0L0.53,-1L-0.53,-1Z", "filled": true, "color": "black", "opacity": 1, "size": 900, "strokeWidth": 0},
      "encoding": {
        "x": {"field": "x", "type": "quantitative", "scale": {"domain": [-11.3, 211.1], "nice": false, "zero": false}, "axis": null},
        "y": {"field": "lo", "type": "quantitative", "scale": {"domain": [0, 63.2], "nice": false, "zero": false}, "axis": null}
      }
    },
    {
      "data": {"name": "bigText"},
      "mark": {"type": "text", "align": "left", "baseline": "alphabetic", "font": "Liberation Sans", "fontSize": 29, "color": "black"},
      "encoding": {
        "x": {"field": "x", "type": "quantitative", "scale": {"domain": [-11.3, 211.1], "nice": false, "zero": false}, "axis": null},
        "y": {"field": "y", "type": "quantitative", "scale": {"domain": [0, 63.2], "nice": false, "zero": false}, "axis": null},
        "text": {"field": "t"}
      }
    },
    {
      "data": {"name": "smallText"},
      "mark": {"type": "text", "align": "left", "baseline": "alphabetic", "font": "Liberation Sans", "fontSize": 21, "color": "black"},
      "encoding": {
        "x": {"field": "x", "type": "quantitative", "scale": {"domain": [-11.3, 211.1], "nice": false, "zero": false}, "axis": null},
        "y": {"field": "y", "type": "quantitative", "scale": {"domain": [0, 63.2], "nice": false, "zero": false}, "axis": null},
        "text": {"field": "t"}
      }
    },
    {
      "data": {"name": "gammaText"},
      "mark": {"type": "text", "align": "left", "baseline": "alphabetic", "font": "Liberation Serif", "fontSize": 29, "color": "black"},
      "encoding": {
        "x": {"field": "x", "type": "quantitative", "scale": {"domain": [-11.3, 211.1], "nice": false, "zero": false}, "axis": null},
        "y": {"field": "y", "type": "quantitative", "scale": {"domain": [0, 63.2], "nice": false, "zero": false}, "axis": null},
        "text": {"field": "t"}
      }
    },
    {
      "data": {"name": "sText"},
      "mark": {"type": "text", "align": "left", "baseline": "alphabetic", "font": "Liberation Serif", "fontStyle": "italic", "fontSize": 28, "color": "black"},
      "encoding": {
        "x": {"field": "x", "type": "quantitative", "scale": {"domain": [-11.3, 211.1], "nice": false, "zero": false}, "axis": null},
        "y": {"field": "y", "type": "quantitative", "scale": {"domain": [0, 63.2], "nice": false, "zero": false}, "axis": null},
        "text": {"field": "t"}
      }
    },
    {
      "data": {"name": "obsText"},
      "mark": {"type": "text", "align": "left", "baseline": "alphabetic", "font": "Liberation Serif", "fontSize": 18, "color": "black"},
      "encoding": {
        "x": {"field": "x", "type": "quantitative", "scale": {"domain": [-11.3, 211.1], "nice": false, "zero": false}, "axis": null},
        "y": {"field": "y", "type": "quantitative", "scale": {"domain": [0, 63.2], "nice": false, "zero": false}, "axis": null},
        "text": {"field": "t"}
      }
    }
  ]
}
